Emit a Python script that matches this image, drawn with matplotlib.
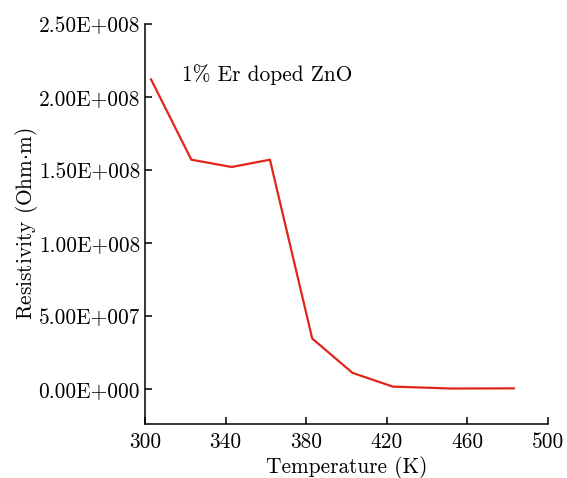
import matplotlib
matplotlib.use('Agg')
from matplotlib import pyplot as plt
from matplotlib.ticker import FixedLocator, FixedFormatter

temps = [303, 323, 343, 362, 383, 403, 423, 452, 483]
resistivity = [2.12e8, 1.57e8, 1.52e8, 1.57e8, 3.45e7, 1.1e7, 1.6e6, 3e5, 4e5]

y_ticks = [0, 5e7, 1e8, 1.5e8, 2e8, 2.5e8]
y_labels = ['0.00E+000', '5.00E+007', '1.00E+008', '1.50E+008', '2.00E+008', '2.50E+008']
x_ticks = [300, 340, 380, 420, 460, 500]

plt.rcParams['font.family'] = 'serif'
plt.rcParams['font.serif'] = ['cmr10', 'DejaVu Serif']
plt.rcParams['mathtext.fontset'] = 'cm'
plt.rcParams['axes.unicode_minus'] = False

fs = 15.4
fig = plt.figure(figsize=(5.67, 4.78), dpi=100)
ax = fig.add_axes([0.2557, 0.113, 0.7108, 0.837])

ax.plot(temps, resistivity, c='#e0261c', lw=1.6)
ax.text(318.5, 2.15e8, '1% Er doped ZnO', fontsize=fs, va='center')

ax.set_xlim(300, 500)
ax.set_ylim(-2.4e7, 2.5e8)
ax.xaxis.set_major_locator(FixedLocator(x_ticks))
ax.yaxis.set_major_locator(FixedLocator(y_ticks))
ax.yaxis.set_major_formatter(FixedFormatter(y_labels))

for side in ['top', 'right']:
    ax.spines[side].set_visible(False)
for side in ['left', 'bottom']:
    ax.spines[side].set_linewidth(1.1)

ax.tick_params(axis='both', direction='in', length=5, width=1.1, labelsize=fs)
ax.tick_params(axis='x', pad=6)
ax.set_xlabel('Temperature (K)', fontsize=fs, labelpad=3)
ax.set_ylabel(r'Resistivity (Ohm$\cdot$m)', fontsize=fs, labelpad=-1)

fig.savefig('out.png', dpi=100)
